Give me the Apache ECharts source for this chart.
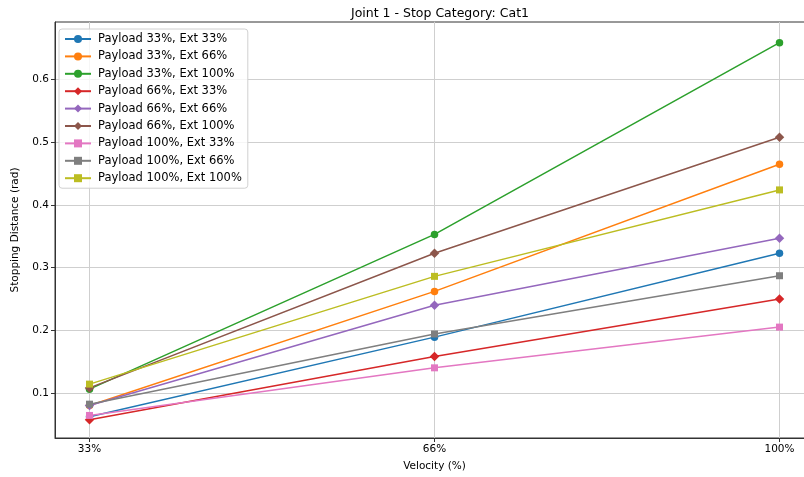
<!DOCTYPE html>
<html>
<head>
<meta charset="utf-8">
<script src="https://cdn.jsdelivr.net/npm/echarts@6/dist/echarts.min.js"></script>
<style>
  html, body { margin: 0; padding: 0; background: #fff; overflow: hidden; }
  #chart { width: 820px; height: 477px; }
</style>
</head>
<body>
<div id="chart"></div>
<script>
// velocity categories on the x axis
const velocities = ['33%', '66%', '100%'];
const yTicks = [0.1, 0.2, 0.3, 0.4, 0.5, 0.6];

const names = [
  'Payload 33%, Ext 33%', 'Payload 33%, Ext 66%', 'Payload 33%, Ext 100%',
  'Payload 66%, Ext 33%', 'Payload 66%, Ext 66%', 'Payload 66%, Ext 100%',
  'Payload 100%, Ext 33%', 'Payload 100%, Ext 66%', 'Payload 100%, Ext 100%'
];

// stopping distance (rad) at 33%, 66%, 100% velocity
const p33e33 = [0.062, 0.189, 0.323];
const p33e66 = [0.080, 0.262, 0.465];
const p33e100 = [0.106, 0.353, 0.659];
const p66e33 = [0.057, 0.158, 0.250];
const p66e66 = [0.080, 0.240, 0.347];
const p66e100 = [0.108, 0.323, 0.508];
const p100e33 = [0.064, 0.140, 0.205];
const p100e66 = [0.082, 0.194, 0.287];
const p100e100 = [0.114, 0.286, 0.424];

const values = [p33e33, p33e66, p33e100, p66e33, p66e66, p66e100, p100e33, p100e66, p100e100];
const colors = ['#1f77b4', '#ff7f0e', '#2ca02c', '#d62728', '#9467bd', '#8c564b', '#e377c2', '#7f7f7f', '#bcbd22'];
const symbols = ['circle', 'circle', 'circle', 'diamond', 'diamond', 'diamond', 'rect', 'rect', 'rect'];
const sizes = [7.5, 7.5, 7.5, 9.5, 9.5, 9.5, 7, 7, 7];

const chart = echarts.init(document.getElementById('chart'));

const series = names.map((n, i) => ({
  name: n,
  type: 'line',
  data: values[i].map((v, j) => [j, v]),
  symbol: symbols[i],
  symbolSize: sizes[i],
  showSymbol: true,
  lineStyle: { width: 1.5, color: colors[i] },
  itemStyle: { color: colors[i] },
  emphasis: { disabled: true },
  z: 2 + i
}));

const font = 'DejaVu Sans';

chart.setOption({
  animation: false,
  title: {
    text: 'Joint 1 - Stop Category: Cat1',
    left: 435,
    textAlign: 'center',
    top: 2,
    textStyle: { fontFamily: font, fontSize: 12.5, fontWeight: 'normal', color: '#000' }
  },
  legend: {
    orient: 'vertical',
    left: 59,
    top: 29,
    itemWidth: 26,
    itemHeight: 10,
    itemGap: 5.4,
    padding: [4, 6, 4, 5],
    backgroundColor: 'rgba(255,255,255,0.8)',
    borderColor: '#d0d0d0',
    borderWidth: 1,
    borderRadius: 3,
    textStyle: { fontFamily: font, fontSize: 11.5, color: '#000', padding: [0, 0, 0, 2] },
    data: names
  },
  grid: {
    left: 55,
    right: 6,
    top: 22,
    bottom: 37,
    show: true,
    borderColor: '#333',
    borderWidth: 1,
    containLabel: false
  },
  xAxis: {
    type: 'value',
    min: -0.1,
    max: 2.1,
    name: 'Velocity (%)',
    nameLocation: 'middle',
    nameGap: 23,
    nameTextStyle: { fontFamily: font, fontSize: 10.5, color: '#000' },
    axisLine: { show: true, onZero: false, lineStyle: { color: '#333', width: 1 } },
    axisTick: { show: true, inside: false, length: 4, customValues: [0, 1, 2], lineStyle: { color: '#333' } },
    axisLabel: {
      customValues: [0, 1, 2],
      formatter: v => velocities[Math.round(v)],
      fontFamily: font, fontSize: 10.5, color: '#000', margin: 6
    },
    splitLine: { show: true, lineStyle: { color: '#cfcfcf', width: 1 } }
  },
  yAxis: {
    type: 'value',
    min: 0.028,
    max: 0.692,
    name: 'Stopping Distance (rad)',
    nameLocation: 'middle',
    nameGap: 34,
    nameTextStyle: { fontFamily: font, fontSize: 10.5, color: '#000' },
    axisLine: { show: true, onZero: false, lineStyle: { color: '#333', width: 1 } },
    axisTick: { show: true, inside: false, length: 4, customValues: yTicks, lineStyle: { color: '#333' } },
    axisLabel: {
      customValues: yTicks,
      formatter: v => v.toFixed(1),
      fontFamily: font, fontSize: 10.5, color: '#000', margin: 6
    },
    splitLine: { show: true, lineStyle: { color: '#cfcfcf', width: 1 } }
  },
  series: series
});
</script>
</body>
</html>
